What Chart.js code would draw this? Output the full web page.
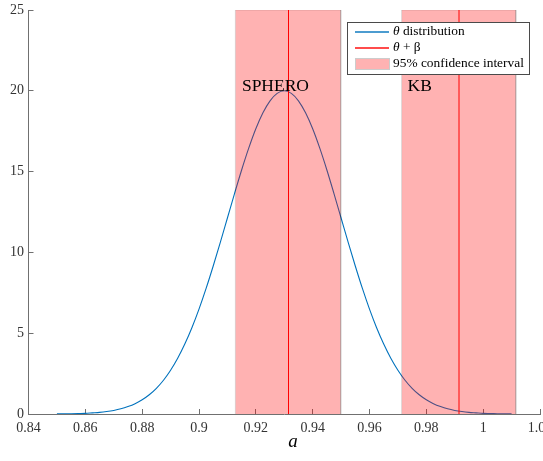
<!DOCTYPE html>
<html><head><meta charset="utf-8">
<script src="https://cdn.jsdelivr.net/npm/chart.js@4"></script>
<style>html,body{margin:0;padding:0;background:#fff}#wrap{width:543px;height:461px;position:relative}</style>
</head><body><div id="wrap"><canvas id="c"></canvas></div>
<script>
// ---- data ----
const aValues = [0.85,0.8525,0.855,0.8575,0.86,0.8625,0.865,0.8675,0.87,0.8725,0.875,0.8775,0.88,0.8825,0.885,0.8875,0.89,0.8925,0.895,0.8975,0.9,0.9025,0.905,0.9075,0.91,0.9125,0.915,0.9175,0.92,0.9225,0.925,0.9275,0.93,0.9325,0.935,0.9375,0.94,0.9425,0.945,0.9475,0.95,0.9525,0.955,0.9575,0.96,0.9625,0.965,0.9675,0.97,0.9725,0.975,0.9775,0.98,0.9825,0.985,0.9875,0.99,0.9925,0.995,0.9975,1.0,1.0025,1.005,1.0075,1.01];
const thetaDensity = [0.01,0.01,0.02,0.03,0.04,0.07,0.10,0.15,0.22,0.32,0.46,0.64,0.88,1.19,1.59,2.09,2.71,3.45,4.33,5.34,6.49,7.77,9.16,10.62,12.13,13.64,15.10,16.45,17.65,18.64,19.38,19.84,20.00,19.84,19.38,18.64,17.65,16.45,15.10,13.64,12.13,10.62,9.16,7.77,6.49,5.34,4.33,3.45,2.71,2.09,1.59,1.19,0.88,0.64,0.46,0.32,0.22,0.15,0.10,0.07,0.04,0.03,0.02,0.01,0.01];
const intervalNames = ['SPHERO', 'KB'];
const intervalCenter = [0.9315, 0.9915];
const intervalLow = [0.9128, 0.9713];
const intervalHigh = [0.9499, 1.0115];
const intervalTop = 25;
const xTickLabels = ['0.84','0.86','0.88','0.9','0.92','0.94','0.96','0.98','1','1.02'];
const yTickLabels = ['0','5','10','15','20','25'];
const legendLabels = ['distribution', '+ β', '95% confidence interval'];
const xAxisTitle = 'a';

const SERIF = "'Liberation Serif','DejaVu Serif',serif";
const BLUE = '#0072BD';
const RED = '#FF0000';
const BAND = 'rgba(255,0,0,0.3)';
const AXIS = '#707070';

const datasets = [{
  label: 'θ distribution',
  data: aValues.map((a, i) => ({x: a, y: thetaDensity[i]})),
  borderColor: BLUE,
  borderWidth: 1.1,
  pointRadius: 0,
  cubicInterpolationMode: 'monotone',
  fill: false,
  order: 3
}];
for (let i = 0; i < intervalNames.length; i++) {
  datasets.push({
    label: intervalNames[i] + ' interval',
    data: [{x: intervalLow[i], y: 0}, {x: intervalLow[i], y: intervalTop}, {x: intervalHigh[i], y: intervalTop}, {x: intervalHigh[i], y: 0}],
    borderColor: 'rgba(0,0,0,0.13)',
    borderWidth: 1,
    backgroundColor: BAND,
    fill: 'origin',
    pointRadius: 0,
    tension: 0,
    order: 2
  });
  datasets.push({
    label: intervalNames[i] + ' θ + β',
    data: [{x: intervalCenter[i], y: 0}, {x: intervalCenter[i], y: intervalTop}],
    borderColor: RED,
    borderWidth: 1,
    pointRadius: 0,
    fill: false,
    tension: 0,
    order: 1
  });
}

const overlay = {
  id: 'overlay',
  afterDraw(chart) {
    const {ctx, scales: {x, y}} = chart;
    ctx.save();
    // interval names
    ctx.fillStyle = '#000';
    ctx.font = '17.5px ' + SERIF;
    ctx.textBaseline = 'alphabetic';
    ctx.textAlign = 'left';
    const nameAnchorX = [0.9151, 0.9734];
    for (let i = 0; i < intervalNames.length; i++) {
      ctx.fillText(intervalNames[i], x.getPixelForValue(nameAnchorX[i]), y.getPixelForValue(20));
    }
    // x axis title
    ctx.font = 'italic 19px ' + SERIF;
    ctx.textAlign = 'center';
    ctx.fillText(xAxisTitle, 293, 447);
    // legend
    const L = 347, T = 22, W = 183, H = 53;
    ctx.fillStyle = '#4a4a4a';
    ctx.fillRect(L, T, W, H);
    ctx.fillStyle = '#ffffff';
    ctx.fillRect(L + 1, T + 1, W - 2, H - 2);
    const rows = [31, 47, 63];
    const sx0 = 355, sw = 34, tx = 393;
    ctx.fillStyle = BLUE;
    ctx.fillRect(sx0, rows[0] + 0.3, sw, 1.4);
    ctx.fillStyle = RED;
    ctx.fillRect(sx0, rows[1] + 0.3, sw, 1.4);
    ctx.fillStyle = 'rgba(0,0,0,0.2)';
    ctx.fillRect(355, 58, 35, 12);
    ctx.fillStyle = '#ffffff';
    ctx.fillRect(356, 59, 33, 10);
    ctx.fillStyle = BAND;
    ctx.fillRect(356, 59, 33, 10);
    ctx.fillStyle = '#000';
    ctx.textAlign = 'left';
    ctx.textBaseline = 'middle';
    for (let r = 0; r < 2; r++) {
      ctx.font = 'italic 13.4px ' + SERIF;
      ctx.fillText('θ', tx, rows[r] + 0.5);
      const w = ctx.measureText('θ').width;
      ctx.font = '13.4px ' + SERIF;
      ctx.fillText(' ' + legendLabels[r], tx + w, rows[r] + 0.5);
    }
    ctx.font = '13.4px ' + SERIF;
    ctx.fillText(legendLabels[2], tx, rows[2] + 0.5);
    ctx.restore();
  }
};

new Chart(document.getElementById('c'), {
  type: 'line',
  data: {datasets},
  options: {
    responsive: true,
    maintainAspectRatio: false,
    animation: false,
    devicePixelRatio: 1,
    layout: {padding: {top: 10, right: 3, left: 0, bottom: 0}},
    plugins: {legend: {display: false}, tooltip: {enabled: false}},
    scales: {
      x: {
        type: 'linear', min: 0.84, max: 1.02,
        grid: {display: true, drawOnChartArea: false, drawTicks: true, tickLength: -5, tickColor: AXIS, tickWidth: 1},
        border: {display: true, color: AXIS, width: 1},
        ticks: {
          stepSize: 0.02, padding: 11, color: '#333', maxRotation: 0, autoSkip: false,
          font: {family: SERIF, size: 14},
          callback: (v, i) => xTickLabels[i]
        },
        afterFit: s => { s.height = 47; s.paddingLeft = 0; s.paddingRight = 0; }
      },
      y: {
        type: 'linear', min: 0, max: 25,
        grid: {display: true, drawOnChartArea: false, drawTicks: true, tickLength: -5, tickColor: AXIS, tickWidth: 1},
        border: {display: true, color: AXIS, width: 1},
        ticks: {
          stepSize: 5, padding: 9.5, color: '#333',
          font: {family: SERIF, size: 14},
          callback: (v, i) => yTickLabels[i]
        },
        afterFit: s => { s.width = 28.5; s.paddingTop = 0; s.paddingBottom = 0; }
      }
    }
  },
  plugins: [overlay]
});
</script>
</body></html>
